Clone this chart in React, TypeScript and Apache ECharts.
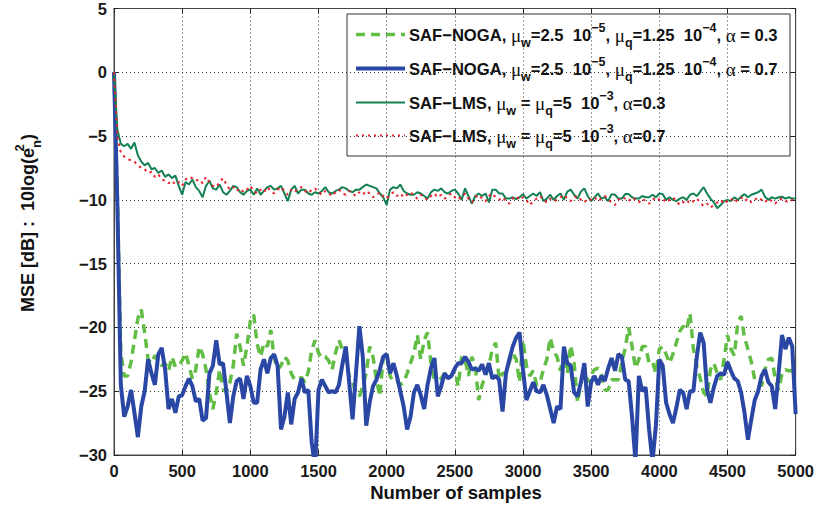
import React, { useEffect, useRef } from "react";
import * as echarts from "echarts";

// sample spacing of the value arrays below (number of samples)
const STEP = 25;

// SAF-NOGA, alpha = 0.3 (green dashed)
const nogaAlpha03 = [
  0, -10.0, -22.0, -23.8, -23.8, -22.7, -21.0, -19.3, -18.6, -20.4,
  -22.5, -22.8, -22.2, -22.6, -23.0, -22.8, -23.4, -22.3, -23.1, -23.0,
  -22.6, -22.0, -23.0, -24.0, -23.3, -21.5, -22.1, -23.3, -25.1, -26.4,
  -25.1, -23.3, -24.8, -25.1, -24.3, -23.0, -20.5, -21.5, -23.0, -21.5,
  -19.5, -19.0, -21.3, -22.3, -21.2, -21.5, -20.2, -22.4, -23.3, -23.0,
  -22.3, -22.6, -23.6, -24.1, -24.1, -23.9, -24.3, -23.5, -21.8, -21.0,
  -22.0, -22.4, -22.3, -22.6, -23.3, -22.0, -21.0, -21.7, -22.5, -23.8,
  -24.3, -25.1, -25.4, -24.6, -23.6, -21.5, -22.3, -24.1, -25.4, -22.3,
  -22.0, -23.8, -24.3, -24.2, -24.5, -24.3, -23.6, -22.8, -22.0, -20.6,
  -22.5, -21.0, -20.4, -22.8, -24.1, -24.1, -24.0, -23.6, -23.7, -23.8,
  -23.3, -24.6, -22.3, -22.5, -23.8, -22.3, -23.0, -25.7, -24.5, -23.8,
  -23.0, -21.7, -21.2, -24.1, -23.6, -23.6, -22.7, -22.0, -22.5, -24.3,
  -21.0, -23.0, -23.8, -23.4, -24.5, -24.3, -23.3, -22.5, -20.8, -21.9,
  -22.3, -23.4, -21.9, -23.6, -21.4, -22.8, -25.9, -24.3, -23.0, -24.3,
  -23.7, -23.3, -23.2, -23.7, -24.9, -24.9, -24.1, -24.1, -24.1, -22.8,
  -21.6, -20.0, -21.5, -23.2, -22.5, -21.5, -21.5, -22.8, -22.7, -23.6,
  -21.7, -21.5, -22.1, -22.8, -22.1, -21.2, -20.3, -19.9, -20.2, -18.9,
  -21.7, -23.0, -24.0, -25.1, -25.4, -23.3, -22.8, -23.6, -24.1, -22.5,
  -20.6, -21.7, -22.2, -19.7, -19.1, -20.8, -21.7, -22.7, -24.1, -24.3,
  -24.6, -23.3, -22.5, -22.4, -24.0, -24.9, -23.6, -23.3, -23.4, -23.4,
  -22.8,
];

// SAF-NOGA, alpha = 0.7 (blue thick)
const nogaAlpha07 = [
  0, -10.5, -24.5, -27.0, -26.2, -24.9, -26.7, -28.6, -26.2, -25.0,
  -22.5, -23.6, -24.5, -22.1, -21.6, -23.3, -26.4, -25.6, -26.7, -25.4,
  -25.3, -24.6, -24.0, -24.6, -25.8, -25.6, -27.3, -27.1, -23.6, -23.0,
  -21.0, -22.9, -22.8, -25.1, -27.5, -25.4, -24.2, -24.0, -25.6, -23.8,
  -24.6, -25.9, -25.9, -23.3, -22.5, -23.6, -22.4, -22.1, -23.0, -28.0,
  -27.0, -25.1, -27.6, -25.6, -25.1, -24.0, -25.1, -24.9, -29.0, -31.0,
  -24.9, -24.1, -24.6, -25.1, -25.0, -25.1, -24.5, -22.9, -21.5, -24.3,
  -27.2, -23.6, -19.9, -22.3, -27.7, -25.9, -24.6, -24.1, -23.3, -22.3,
  -22.1, -23.6, -22.8, -23.8, -25.0, -26.2, -28.0, -27.0, -25.1, -24.5,
  -25.3, -26.4, -24.5, -23.2, -22.4, -25.4, -24.6, -23.6, -24.0, -23.8,
  -23.2, -22.8, -22.8, -22.3, -22.7, -23.3, -23.2, -23.4, -22.9, -23.7,
  -22.8, -24.0, -23.8, -24.1, -26.6, -23.6, -22.5, -21.5, -20.8, -20.4,
  -23.3, -25.7, -25.0, -24.3, -25.0, -25.1, -24.5, -25.3, -26.4, -27.5,
  -26.2, -26.4, -21.5, -22.8, -23.0, -25.1, -25.4, -24.3, -22.8, -26.2,
  -24.3, -23.8, -24.5, -23.8, -24.2, -23.2, -22.4, -23.4, -22.1, -22.3,
  -24.1, -24.2, -27.0, -30.5, -23.8, -25.0, -24.7, -28.0, -30.5, -27.7,
  -22.5, -23.0, -25.9, -26.8, -27.5, -26.3, -24.9, -25.1, -26.4, -25.0,
  -25.0, -22.3, -20.4, -21.2, -24.9, -25.9, -24.7, -23.8, -23.6, -23.7,
  -22.7, -23.4, -24.0, -24.2, -25.1, -26.7, -28.8, -27.2, -25.7, -25.0,
  -23.8, -23.3, -24.3, -24.6, -26.4, -23.6, -20.6, -21.7, -20.8, -21.5,
  -26.8,
];

// SAF-LMS, alpha = 0.3 (dark green)
const lmsAlpha03 = [
  0, -4.5, -5.6, -5.8, -5.6, -6.0, -5.5, -6.5, -7.0, -7.3,
  -7.1, -7.6, -7.5, -7.9, -7.7, -8.2, -8.0, -8.3, -8.1, -8.9,
  -9.6, -8.6, -8.8, -8.4, -9.0, -9.3, -9.8, -8.9, -8.5, -9.1,
  -9.2, -8.8, -9.4, -9.6, -9.3, -8.9, -9.0, -9.4, -9.6, -9.3,
  -9.2, -9.6, -9.1, -9.6, -9.3, -9.0, -8.9, -9.2, -9.1, -8.9,
  -9.5, -10.1, -9.2, -8.9, -9.5, -9.2, -9.2, -9.5, -9.6, -9.4,
  -9.5, -9.3, -9.0, -9.4, -9.5, -9.3, -9.2, -9.0, -9.1, -9.3,
  -9.4, -9.2, -9.2, -9.0, -8.8, -8.9, -9.0, -9.1, -9.5, -9.8,
  -10.4, -9.2, -9.0, -9.1, -8.8, -9.3, -9.5, -9.6, -9.6, -9.4,
  -9.5, -9.7, -9.9, -9.4, -9.2, -9.3, -9.1, -9.4, -9.5, -9.3,
  -9.2, -9.5, -10.0, -9.1, -9.7, -10.3, -9.7, -9.5, -9.7, -9.5,
  -10.2, -9.2, -9.2, -9.5, -9.5, -9.9, -9.9, -9.8, -9.95, -9.8,
  -9.55, -9.9, -9.7, -9.5, -9.7, -9.4, -10.1, -9.9, -9.6, -10.0,
  -9.7, -9.5, -10.0, -9.35, -9.2, -9.6, -9.9, -9.35, -9.1, -9.7,
  -10.1, -9.8, -9.5, -9.9, -9.8, -10.1, -9.55, -9.6, -9.9, -9.9,
  -9.55, -9.55, -9.8, -9.9, -9.9, -9.7, -9.8, -9.8, -9.6, -9.8,
  -9.5, -9.55, -10.0, -9.8, -10.0, -10.1, -9.9, -9.8, -10.0, -9.6,
  -9.5, -9.7, -9.35, -9.0, -9.5, -9.9, -10.2, -10.65, -10.4, -10.1,
  -10.0, -10.1, -9.8, -10.0, -9.75, -9.55, -9.8, -9.6, -9.5, -9.4,
  -9.2, -9.75, -10.0, -9.8, -9.9, -9.8, -9.75, -9.9, -9.8, -9.9,
  -9.9,
];

// SAF-LMS, alpha = 0.7 (red dotted)
const lmsAlpha07 = [
  0, -5.0, -6.3, -6.6, -6.8, -6.9, -7.0, -7.3, -7.5, -7.6,
  -7.9, -7.8, -8.2, -8.0, -8.4, -8.5, -8.7, -8.5, -8.8, -8.6,
  -8.9, -8.4, -8.2, -8.3, -8.5, -8.4, -8.7, -8.2, -8.6, -8.9,
  -9.0, -8.6, -8.3, -8.8, -9.2, -9.0, -9.3, -9.1, -9.4, -9.2,
  -8.9, -9.3, -9.5, -9.2, -9.4, -9.0, -9.3, -9.5, -9.2, -9.0,
  -9.3, -9.6, -9.2, -9.4, -9.1, -9.0, -9.3, -9.5, -9.2, -9.1,
  -9.4, -9.6, -9.3, -9.5, -9.7, -9.4, -9.2, -9.5, -9.6, -9.3,
  -9.5, -9.7, -9.4, -9.6, -9.3, -9.5, -9.8, -9.6, -9.4, -9.7,
  -9.9, -9.6, -9.4, -9.7, -9.5, -9.8, -9.6, -9.4, -9.7, -9.9,
  -9.6, -9.8, -10.0, -9.7, -9.5, -9.8, -9.6, -9.9, -9.7, -9.5,
  -9.8, -10.0, -9.7, -9.5, -9.9, -10.2, -9.8, -9.6, -9.9, -10.1,
  -9.7, -9.5, -9.8, -10.0, -9.8, -10.1, -10.3, -9.9, -9.7, -10.0,
  -9.8, -10.0, -10.4, -10.1, -9.9, -9.7, -10.0, -10.2, -9.9, -10.1,
  -10.0, -9.8, -9.6, -9.9, -10.1, -9.8, -9.7, -10.0, -10.2, -9.9,
  -10.0, -9.8, -10.1, -9.9, -9.7, -10.0, -10.2, -10.4, -10.0, -9.8,
  -9.9, -10.1, -9.8, -10.0, -10.2, -9.9, -10.1, -10.3, -10.0, -9.8,
  -10.0, -9.9, -10.2, -10.0, -9.8, -10.1, -10.4, -10.2, -10.0, -10.3,
  -10.1, -9.9, -10.2, -10.5, -10.3, -10.6, -10.4, -10.2, -10.0, -10.3,
  -10.1, -9.9, -10.2, -10.0, -9.8, -10.1, -9.9, -10.2, -10.0, -9.8,
  -10.0, -10.2, -9.9, -10.1, -10.3, -10.0, -9.9, -10.1, -10.2, -10.0,
  -10.1,
];

const SANS = "'Liberation Sans', Arial, Helvetica, sans-serif";
const SERIF = "'Liberation Serif', 'Times New Roman', serif";

const C_NOGA03 = "#62bd45";
const C_NOGA07 = "#2a47a6";
const C_LMS03 = "#138153";
const C_LMS07 = "#e8232c";

function toPairs(vals: number[]) {
  return vals.map((v, i) => [i * STEP, v]);
}

const legendRich = {
  b: { fontFamily: SANS, fontWeight: "bold", fontSize: 16.6, lineHeight: 28, verticalAlign: "middle", fill: "#111" },
  g: { fontFamily: SERIF, fontWeight: "normal", fontSize: 19, lineHeight: 28, verticalAlign: "middle", fill: "#111" },
  sub: { fontFamily: SANS, fontWeight: "bold", fontSize: 12.5, lineHeight: 12, verticalAlign: "bottom", fill: "#111" },
  sup: { fontFamily: SANS, fontWeight: "bold", fontSize: 12.5, lineHeight: 16, verticalAlign: "top", fill: "#111" },
};

const legendTexts = [
  "{b|SAF\u2212NOGA, }{g|\u03bc}{sub|w}{b|=2.5  10}{sup|\u22125}{b|, }{g|\u03bc}{sub|q}{b|=1.25  10}{sup|\u22124}{b|, }{g|\u03b1}{b| = 0.3}",
  "{b|SAF\u2212NOGA, }{g|\u03bc}{sub|w}{b|=2.5  10}{sup|\u22125}{b|, }{g|\u03bc}{sub|q}{b|=1.25  10}{sup|\u22124}{b|, }{g|\u03b1}{b| = 0.7}",
  "{b|SAF\u2212LMS, }{g|\u03bc}{sub|w}{b| = }{g|\u03bc}{sub|q}{b|=5  10}{sup|\u22123}{b|, }{g|\u03b1}{b|=0.3}",
  "{b|SAF\u2212LMS, }{g|\u03bc}{sub|w}{b| = }{g|\u03bc}{sub|q}{b|=5  10}{sup|\u22123}{b|, }{g|\u03b1}{b|=0.7}",
];

export default function App() {
  const ref = useRef<HTMLDivElement>(null);
  useEffect(() => {
    if (!ref.current) return;
    const chart = echarts.init(ref.current, null, { renderer: "svg" });
    const minus = (v: number) => (v < 0 ? "\u2212" + Math.abs(v) : String(v));
    const axisLine = { show: true, onZero: false, lineStyle: { color: "#444", width: 1 } };
    const tick = { show: true, inside: true, length: 5, lineStyle: { color: "#222", width: 1 } };
    const gridLine = { show: true, lineStyle: { type: [1, 3], color: "#333", width: 1 } };
    const labelStyle = { fontFamily: SANS, fontWeight: "bold", fontSize: 16.5, color: "#1a1a1a" };

    const legendY = [34.5, 68.5, 102.5, 135.5];
    const legendLines = [
      { color: C_NOGA03, width: 3.5, dash: [9, 6] },
      { color: C_NOGA07, width: 4, dash: null },
      { color: C_LMS03, width: 2, dash: null },
      { color: C_LMS07, width: 2, dash: [2, 4] },
    ];
    const legendChildren: any[] = [
      {
        type: "rect",
        shape: { x: 347, y: 14, width: 443, height: 142 },
        style: { fill: "#fff", stroke: "#333", lineWidth: 1 },
      },
    ];
    legendLines.forEach((l, i) => {
      legendChildren.push({
        type: "line",
        shape: { x1: 356, y1: legendY[i], x2: 405, y2: legendY[i] },
        style: { stroke: l.color, lineWidth: l.width, lineDash: l.dash || undefined },
      });
      legendChildren.push({
        type: "text",
        x: 409,
        y: legendY[i] + 1,
        style: { text: legendTexts[i], rich: legendRich, align: "left", verticalAlign: "middle" },
      });
    });

    chart.setOption({
      animation: false,
      backgroundColor: "#fff",
      grid: { left: 114, right: 20, top: 7, bottom: 51, show: true, borderColor: "#444", borderWidth: 1 },
      xAxis: [
        {
          type: "value", min: 0, max: 5000, interval: 500, position: "bottom",
          axisLine, axisTick: tick, splitLine: gridLine,
          axisLabel: { ...labelStyle, margin: 7, formatter: (v: number) => String(v) },
        },
        {
          type: "value", min: 0, max: 5000, interval: 500, position: "top",
          axisLine, axisTick: tick, splitLine: { show: false }, axisLabel: { show: false },
        },
      ],
      yAxis: [
        {
          type: "value", min: -30, max: 5, interval: 5, position: "left",
          axisLine, axisTick: tick, splitLine: gridLine,
          axisLabel: { ...labelStyle, margin: 7, formatter: minus },
        },
        {
          type: "value", min: -30, max: 5, interval: 5, position: "right",
          axisLine, axisTick: tick, splitLine: { show: false }, axisLabel: { show: false },
        },
      ],
      series: [
        {
          name: "SAF-NOGA a=0.3", type: "line", data: toPairs(nogaAlpha03), showSymbol: false, symbol: "none",
          lineStyle: { color: C_NOGA03, width: 3.5, type: [9, 6] }, z: 2,
        },
        {
          name: "SAF-NOGA a=0.7", type: "line", data: toPairs(nogaAlpha07), showSymbol: false, symbol: "none",
          lineStyle: { color: C_NOGA07, width: 4 }, z: 3,
        },
        {
          name: "SAF-LMS a=0.3", type: "line", data: toPairs(lmsAlpha03), showSymbol: false, symbol: "none",
          lineStyle: { color: C_LMS03, width: 2 }, z: 4,
        },
        {
          name: "SAF-LMS a=0.7", type: "line", data: toPairs(lmsAlpha07), showSymbol: false, symbol: "none",
          lineStyle: { color: C_LMS07, width: 2, type: [2.5, 4] }, z: 5,
        },
      ],
      graphic: [
        { type: "group", z: 100, children: legendChildren },
        {
          type: "text", x: 456, y: 492, z: 100,
          style: { text: "Number of samples", fontFamily: SANS, fontWeight: "bold", fontSize: 18.5, fill: "#111", align: "center", verticalAlign: "middle" },
        },
        {
          type: "text", x: 28, y: 223, rotation: Math.PI / 2, z: 100,
          style: {
            text: "{b|MSE [dB] :  10log(e}{sup|2}{sub|n}{b|)}",
            align: "center", verticalAlign: "middle",
            rich: {
              b: { fontFamily: SANS, fontWeight: "bold", fontSize: 18, lineHeight: 30, verticalAlign: "middle", fill: "#111" },
              sup: { fontFamily: SANS, fontWeight: "bold", fontSize: 13, lineHeight: 16, verticalAlign: "top", fill: "#111", width: 0 },
              sub: { fontFamily: SANS, fontWeight: "bold", fontSize: 13, lineHeight: 13, verticalAlign: "bottom", fill: "#111" },
            },
          },
        },
      ],
    });
    return () => chart.dispose();
  }, []);
  return <div ref={ref} style={{ position: "absolute", left: 0, top: 0, width: 817, height: 506 }} />;
}
